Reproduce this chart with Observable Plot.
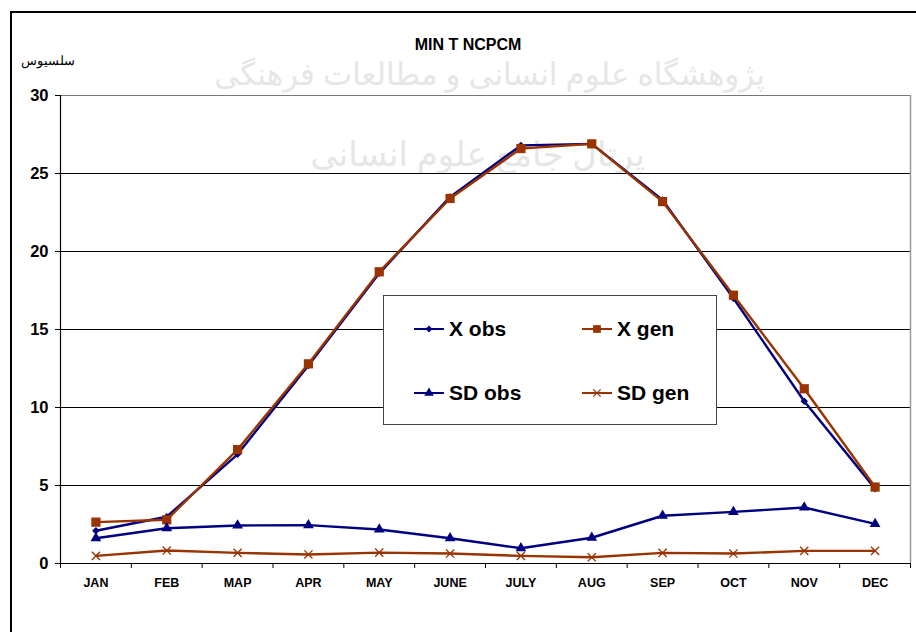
<!DOCTYPE html>
<html>
<head>
<meta charset="utf-8">
<script src="https://cdn.jsdelivr.net/npm/d3@7"></script>
<script src="https://cdn.jsdelivr.net/npm/@observablehq/plot@0.6"></script>
<style>
  html, body { margin: 0; padding: 0; background: #fff; width: 916px; height: 632px; overflow: hidden; }
  #frame { position: absolute; left: 10px; top: 11px; width: 1000px; height: 1000px; border: 2px solid #000; }
  #wm1, #wm2 { position: absolute; color: #e6e6e6; font-family: "Noto Sans", "DejaVu Sans", sans-serif; white-space: nowrap; direction: rtl; text-align: center; }
  #wm1 { left: 230px; width: 535px; top: 52px; font-size: 31px; }
  #wm2 { left: 350px; width: 295px; top: 130px; font-size: 34px; }
  #chart { position: absolute; left: 0; top: 0; }
  #chart g[aria-label="y-axis tick label"] { font-size: 16.5px !important; font-weight: bold; }
  #chart g[aria-label="x-axis tick label"] { font-size: 12.5px !important; font-weight: bold; }
  #title { position: absolute; left: 0; width: 936px; top: 36px; line-height: 18px; text-align: center; font: bold 16px "Liberation Sans", Arial, sans-serif; }
  #ylabel { position: absolute; left: 21px; top: 53px; font: 13px "Liberation Sans", Arial, sans-serif; direction: rtl; }
  #legend { position: absolute; left: 383px; top: 295px; width: 332px; height: 128px; border: 1px solid #444; background: #fff;
            font: bold 21px "Liberation Sans", Arial, sans-serif; }
  .item { position: absolute; display: flex; align-items: center; height: 24px; }
  .item svg { margin-right: 5px; }
</style>
</head>
<body>
<div id="frame"></div>
<div id="wm1">پژوهشگاه علوم انسانی و مطالعات فرهنگی</div>
<div id="wm2">پرتال جامع علوم انسانی</div>
<div id="chart"></div>
<div id="title"></div>
<div id="ylabel"></div>
<div id="legend"></div>
<script>
const titleText = "MIN T NCPCM";
const yLabel = "سلسیوس";
const months = ["JAN", "FEB", "MAP", "APR", "MAY", "JUNE", "JULY", "AUG", "SEP", "OCT", "NOV", "DEC"];
const yTicks = [0, 5, 10, 15, 20, 25, 30];
const xObs = [2.1, 3.0, 7.0, 12.7, 18.6, 23.5, 26.8, 26.9, 23.3, 17.0, 10.4, 4.8];
const xGen = [2.65, 2.8, 7.3, 12.8, 18.7, 23.4, 26.6, 26.9, 23.2, 17.2, 11.2, 4.9];
const sdObs = [1.62, 2.26, 2.44, 2.46, 2.18, 1.62, 0.98, 1.65, 3.06, 3.31, 3.59, 2.54];
const sdGen = [0.49, 0.83, 0.68, 0.58, 0.70, 0.64, 0.49, 0.40, 0.68, 0.64, 0.81, 0.81];
const seriesNames = ["X obs", "X gen", "SD obs", "SD gen"];

const NAVY = "#000080", BROWN = "#993300";
const styles = {
  "X obs": {color: NAVY, symbol: "diamond2", r: 3.4, filled: true},
  "X gen": {color: BROWN, symbol: "square", r: 5.2, filled: true},
  "SD obs": {color: NAVY, symbol: "triangle", r: 4, filled: true},
  "SD gen": {color: BROWN, symbol: "times", r: 3.8, filled: false}
};
const seriesValues = {"X obs": xObs, "X gen": xGen, "SD obs": sdObs, "SD gen": sdGen};

const rows = seriesNames.flatMap(s => seriesValues[s].map((v, i) => ({series: s, i: i + 0.5, v})));

document.getElementById("title").textContent = titleText;
document.getElementById("ylabel").textContent = yLabel;

const seriesMarks = seriesNames.flatMap(s => {
  const st = styles[s];
  const data = rows.filter(d => d.series === s);
  return [
    Plot.line(data, {x: "i", y: "v", stroke: st.color, strokeWidth: 2.4}),
    Plot.dot(data, st.filled
      ? {x: "i", y: "v", symbol: () => st.symbol, r: st.r, fill: st.color, stroke: "none"}
      : {x: "i", y: "v", symbol: () => st.symbol, r: st.r, stroke: st.color, strokeWidth: 1.3})
  ];
});

const chart = Plot.plot({
  width: 916, height: 632,
  marginLeft: 60, marginRight: 6, marginTop: 95, marginBottom: 69,
  x: {domain: [0, 12], axis: null},
  y: {domain: [0, 30], axis: null},
  symbol: {type: "identity"},
  style: {background: "transparent", fontFamily: "'Liberation Sans', Arial, sans-serif", color: "#000"},
  marks: [
    Plot.ruleY(yTicks.filter(t => t > 0 && t < 30), {stroke: "#000", strokeWidth: 1}),
    Plot.ruleY([30], {stroke: "#777", strokeWidth: 1.2}),
    Plot.ruleX([12], {stroke: "#999", strokeWidth: 1.5}),
    Plot.axisY({ticks: yTicks, tickSize: 5, tickPadding: 7, fontSize: 16.5, fontWeight: "bold", label: null, stroke: "#000"}),
    Plot.axisX({ticks: d3.range(0, 13), tickSize: 5, tickFormat: () => "", label: null, stroke: "#000"}),
    Plot.axisX({ticks: months.map((m, i) => i + 0.5), tickSize: 0, tickPadding: 15, tickFormat: v => months[Math.round(v - 0.5)], fontSize: 12.5, fontWeight: "bold", label: null}),
    Plot.ruleX([0], {stroke: "#000", strokeWidth: 1.2}),
    Plot.ruleY([0], {stroke: "#000", strokeWidth: 1.2}),
    ...seriesMarks
  ]
});
document.getElementById("chart").appendChild(chart);

// Legend
const legend = document.getElementById("legend");
const legendPos = [[30, 21], [198, 21], [30, 85], [198, 85]];
seriesNames.forEach((s, k) => {
  const st = styles[s];
  const item = document.createElement("div");
  item.className = "item";
  item.style.left = legendPos[k][0] + "px";
  item.style.top = legendPos[k][1] + "px";
  const sym = d3.symbol(
    {diamond2: d3.symbolDiamond2, square: d3.symbolSquare, triangle: d3.symbolTriangle, times: d3.symbolTimes}[st.symbol],
    Math.PI * st.r * st.r * (st.symbol === "square" ? 0.7 : 0.8))();
  item.innerHTML =
    `<svg width="30" height="14" viewBox="0 0 30 14">
       <line x1="0" x2="30" y1="7" y2="7" stroke="${st.color}" stroke-width="2"/>
       <path transform="translate(15,7)" d="${sym}" ${st.filled ? `fill="${st.color}"` : `fill="none" stroke="${st.color}" stroke-width="1.2"`}/>
     </svg><span>${s}</span>`;
  legend.appendChild(item);
});
</script>
</body>
</html>
